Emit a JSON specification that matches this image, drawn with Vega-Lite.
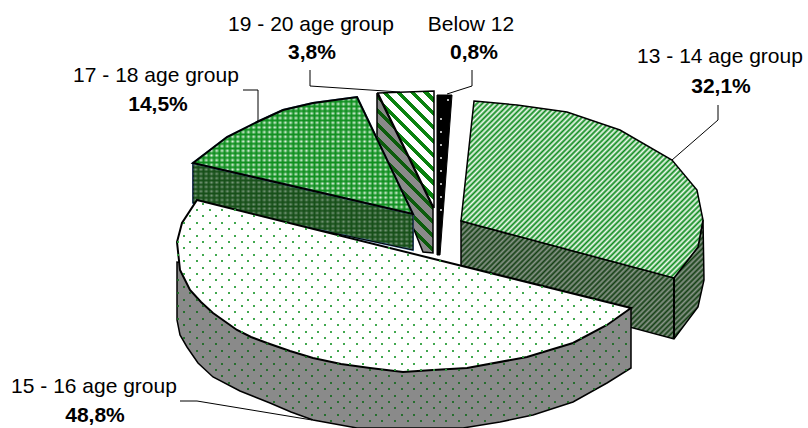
{
"$schema":"https://vega.github.io/schema/vega-lite/v6.json",
"width":808,"height":428,"padding":0,"autosize":{"type":"none"},"background":"white",
"config":{"view":{"stroke":null}},
"data":{"name":"outlines","values":[
{"p":"greySide","i":1,"x":377,"y":93},{"p":"greySide","i":2,"x":433,"y":208},{"p":"greySide","i":3,"x":433,"y":253},{"p":"greySide","i":4,"x":423,"y":252},{"p":"greySide","i":5,"x":377,"y":138},
{"p":"stripeTop","i":1,"x":378,"y":93},{"p":"stripeTop","i":2,"x":434,"y":91},{"p":"stripeTop","i":3,"x":434,"y":208},
{"p":"black","i":1,"x":437,"y":95},{"p":"black","i":2,"x":452,"y":95},{"p":"black","i":3,"x":440,"y":255},{"p":"black","i":4,"x":437,"y":255},
{"p":"greenSide","i":1,"x":193,"y":163},{"p":"greenSide","i":2,"x":413,"y":214},{"p":"greenSide","i":3,"x":413,"y":250},{"p":"greenSide","i":4,"x":193,"y":203},
{"p":"greenTop","i":1,"x":193,"y":163},{"p":"greenTop","i":2,"x":227,"y":137},{"p":"greenTop","i":3,"x":257,"y":122},{"p":"greenTop","i":4,"x":283,"y":110},{"p":"greenTop","i":5,"x":313,"y":103},{"p":"greenTop","i":6,"x":357,"y":97},{"p":"greenTop","i":7,"x":413,"y":214},
{"p":"youngSide","i":1,"x":461,"y":221},{"p":"youngSide","i":2,"x":674,"y":278},{"p":"youngSide","i":3,"x":698,"y":247},{"p":"youngSide","i":4,"x":703,"y":220},{"p":"youngSide","i":5,"x":704,"y":280},{"p":"youngSide","i":6,"x":698,"y":307},{"p":"youngSide","i":7,"x":674,"y":339},{"p":"youngSide","i":8,"x":461,"y":282},
{"p":"youngEdge","i":1,"x":674,"y":278},{"p":"youngEdge","i":2,"x":674,"y":339},
{"p":"youngTop","i":1,"x":474,"y":101},{"p":"youngTop","i":2,"x":517,"y":105},{"p":"youngTop","i":3,"x":567,"y":112},{"p":"youngTop","i":4,"x":620,"y":130},{"p":"youngTop","i":5,"x":672,"y":160},{"p":"youngTop","i":6,"x":697,"y":190},{"p":"youngTop","i":7,"x":703,"y":220},{"p":"youngTop","i":8,"x":698,"y":247},{"p":"youngTop","i":9,"x":674,"y":278},{"p":"youngTop","i":10,"x":461,"y":221},
{"p":"bigSide","i":1,"x":177,"y":262},{"p":"bigSide","i":2,"x":177,"y":320},{"p":"bigSide","i":3,"x":180,"y":335},{"p":"bigSide","i":4,"x":187,"y":347},{"p":"bigSide","i":5,"x":198,"y":363},{"p":"bigSide","i":6,"x":213,"y":377},{"p":"bigSide","i":7,"x":240,"y":391},{"p":"bigSide","i":8,"x":270,"y":403},{"p":"bigSide","i":9,"x":291,"y":412},{"p":"bigSide","i":10,"x":313,"y":420},{"p":"bigSide","i":11,"x":357,"y":428},{"p":"bigSide","i":12,"x":463,"y":428},{"p":"bigSide","i":13,"x":500,"y":422},{"p":"bigSide","i":14,"x":533,"y":415},{"p":"bigSide","i":15,"x":573,"y":402},{"p":"bigSide","i":16,"x":607,"y":383},{"p":"bigSide","i":17,"x":631,"y":368},{"p":"bigSide","i":18,"x":631,"y":308},
{"p":"bigTop","i":1,"x":197,"y":200},{"p":"bigTop","i":2,"x":631,"y":308},{"p":"bigTop","i":3,"x":607,"y":325},{"p":"bigTop","i":4,"x":573,"y":343},{"p":"bigTop","i":5,"x":527,"y":357},{"p":"bigTop","i":6,"x":467,"y":368},{"p":"bigTop","i":7,"x":433,"y":370},{"p":"bigTop","i":8,"x":403,"y":372},{"p":"bigTop","i":9,"x":370,"y":368},{"p":"bigTop","i":10,"x":341,"y":364},{"p":"bigTop","i":11,"x":313,"y":358},{"p":"bigTop","i":12,"x":290,"y":351},{"p":"bigTop","i":13,"x":267,"y":343},{"p":"bigTop","i":14,"x":251,"y":337},{"p":"bigTop","i":15,"x":237,"y":330},{"p":"bigTop","i":16,"x":213,"y":313},{"p":"bigTop","i":17,"x":201,"y":302},{"p":"bigTop","i":18,"x":190,"y":290},{"p":"bigTop","i":19,"x":180,"y":270},{"p":"bigTop","i":20,"x":177,"y":242},{"p":"bigTop","i":21,"x":182,"y":223}
]},
"encoding":{
"x":{"field":"x","type":"quantitative","scale":{"domain":[0,808],"nice":false,"zero":false},"axis":null},
"y":{"field":"y","type":"quantitative","scale":{"domain":[428,0],"nice":false,"zero":false},"axis":null}
},
"layer":[
{"transform":[{"filter":"datum.p=='greySide'"}],"encoding":{"order":{"field":"i"}},"mark":{"type":"line","interpolate":"linear-closed","stroke":"#000","strokeWidth":1.5,"fill":{"gradient":"linear","x1":0,"y1":1,"x2":0.421,"y2":-0.202,"stops":[
{"offset":0,"color":"#0c5c0c"},{"offset":0.025,"color":"#0c5c0c"},{"offset":0.025,"color":"#8a8a8a"},{"offset":0.065,"color":"#8a8a8a"},
{"offset":0.065,"color":"#0c5c0c"},{"offset":0.09,"color":"#0c5c0c"},{"offset":0.09,"color":"#8a8a8a"},{"offset":0.13,"color":"#8a8a8a"},
{"offset":0.13,"color":"#0c5c0c"},{"offset":0.155,"color":"#0c5c0c"},{"offset":0.155,"color":"#8a8a8a"},{"offset":0.195,"color":"#8a8a8a"},
{"offset":0.195,"color":"#0c5c0c"},{"offset":0.22,"color":"#0c5c0c"},{"offset":0.22,"color":"#8a8a8a"},{"offset":0.26,"color":"#8a8a8a"},
{"offset":0.26,"color":"#0c5c0c"},{"offset":0.285,"color":"#0c5c0c"},{"offset":0.285,"color":"#8a8a8a"},{"offset":0.325,"color":"#8a8a8a"},
{"offset":0.325,"color":"#0c5c0c"},{"offset":0.35,"color":"#0c5c0c"},{"offset":0.35,"color":"#8a8a8a"},{"offset":0.39,"color":"#8a8a8a"},
{"offset":0.39,"color":"#0c5c0c"},{"offset":0.415,"color":"#0c5c0c"},{"offset":0.415,"color":"#8a8a8a"},{"offset":0.455,"color":"#8a8a8a"},
{"offset":0.455,"color":"#0c5c0c"},{"offset":0.48,"color":"#0c5c0c"},{"offset":0.48,"color":"#8a8a8a"},{"offset":0.52,"color":"#8a8a8a"},
{"offset":0.52,"color":"#0c5c0c"},{"offset":0.545,"color":"#0c5c0c"},{"offset":0.545,"color":"#8a8a8a"},{"offset":0.585,"color":"#8a8a8a"},
{"offset":0.585,"color":"#0c5c0c"},{"offset":0.61,"color":"#0c5c0c"},{"offset":0.61,"color":"#8a8a8a"},{"offset":0.65,"color":"#8a8a8a"},
{"offset":0.65,"color":"#0c5c0c"},{"offset":0.675,"color":"#0c5c0c"},{"offset":0.675,"color":"#8a8a8a"},{"offset":0.715,"color":"#8a8a8a"},
{"offset":0.715,"color":"#0c5c0c"},{"offset":0.74,"color":"#0c5c0c"},{"offset":0.74,"color":"#8a8a8a"},{"offset":0.78,"color":"#8a8a8a"},
{"offset":0.78,"color":"#0c5c0c"},{"offset":0.805,"color":"#0c5c0c"},{"offset":0.805,"color":"#8a8a8a"},{"offset":0.845,"color":"#8a8a8a"},
{"offset":0.845,"color":"#0c5c0c"},{"offset":0.87,"color":"#0c5c0c"},{"offset":0.87,"color":"#8a8a8a"},{"offset":0.91,"color":"#8a8a8a"},
{"offset":0.91,"color":"#0c5c0c"},{"offset":0.935,"color":"#0c5c0c"},{"offset":0.935,"color":"#8a8a8a"},{"offset":0.975,"color":"#8a8a8a"},
{"offset":0.975,"color":"#0c5c0c"},{"offset":1,"color":"#0c5c0c"}]}}},
{"transform":[{"filter":"datum.p=='stripeTop'"}],"encoding":{"order":{"field":"i"}},"mark":{"type":"line","interpolate":"linear-closed","stroke":"#000","strokeWidth":1.5,"fill":{"gradient":"linear","x1":0,"y1":1,"x2":0.576,"y2":-0.203,"stops":[
{"offset":0,"color":"#fff"},{"offset":0.05,"color":"#fff"},{"offset":0.05,"color":"#0a820f"},{"offset":0.08,"color":"#0a820f"},
{"offset":0.08,"color":"#fff"},{"offset":0.13,"color":"#fff"},{"offset":0.13,"color":"#0a820f"},{"offset":0.16,"color":"#0a820f"},
{"offset":0.16,"color":"#fff"},{"offset":0.21,"color":"#fff"},{"offset":0.21,"color":"#0a820f"},{"offset":0.24,"color":"#0a820f"},
{"offset":0.24,"color":"#fff"},{"offset":0.29,"color":"#fff"},{"offset":0.29,"color":"#0a820f"},{"offset":0.32,"color":"#0a820f"},
{"offset":0.32,"color":"#fff"},{"offset":0.37,"color":"#fff"},{"offset":0.37,"color":"#0a820f"},{"offset":0.4,"color":"#0a820f"},
{"offset":0.4,"color":"#fff"},{"offset":0.45,"color":"#fff"},{"offset":0.45,"color":"#0a820f"},{"offset":0.48,"color":"#0a820f"},
{"offset":0.48,"color":"#fff"},{"offset":0.53,"color":"#fff"},{"offset":0.53,"color":"#0a820f"},{"offset":0.56,"color":"#0a820f"},
{"offset":0.56,"color":"#fff"},{"offset":0.61,"color":"#fff"},{"offset":0.61,"color":"#0a820f"},{"offset":0.64,"color":"#0a820f"},
{"offset":0.64,"color":"#fff"},{"offset":0.69,"color":"#fff"},{"offset":0.69,"color":"#0a820f"},{"offset":0.72,"color":"#0a820f"},
{"offset":0.72,"color":"#fff"},{"offset":0.77,"color":"#fff"},{"offset":0.77,"color":"#0a820f"},{"offset":0.8,"color":"#0a820f"},
{"offset":0.8,"color":"#fff"},{"offset":0.85,"color":"#fff"},{"offset":0.85,"color":"#0a820f"},{"offset":0.88,"color":"#0a820f"},
{"offset":0.88,"color":"#fff"},{"offset":0.93,"color":"#fff"},{"offset":0.93,"color":"#0a820f"},{"offset":0.96,"color":"#0a820f"},
{"offset":0.96,"color":"#fff"},{"offset":1,"color":"#fff"}]}}},
{"transform":[{"filter":"datum.p=='black'"}],"encoding":{"order":{"field":"i"}},"mark":{"type":"line","interpolate":"linear-closed","stroke":"#000","strokeWidth":1,"fill":"#000"}},
{"transform":[{"filter":"datum.p=='greenSide'"}],"encoding":{"order":{"field":"i"}},"mark":{"type":"line","interpolate":"linear-closed","fill":{"gradient":"linear","x1":0,"y1":0,"x2":1,"y2":0,"stops":[
{"offset":0,"color":"#164f18"},{"offset":0.012,"color":"#7c9a7e"},{"offset":0.024,"color":"#164f18"},{"offset":0.036,"color":"#7c9a7e"},{"offset":0.048,"color":"#164f18"},{"offset":0.06,"color":"#7c9a7e"},{"offset":0.072,"color":"#164f18"},{"offset":0.084,"color":"#7c9a7e"},{"offset":0.096,"color":"#164f18"},{"offset":0.108,"color":"#7c9a7e"},{"offset":0.12,"color":"#164f18"},{"offset":0.132,"color":"#7c9a7e"},{"offset":0.144,"color":"#164f18"},{"offset":0.156,"color":"#7c9a7e"},{"offset":0.168,"color":"#164f18"},{"offset":0.18,"color":"#7c9a7e"},{"offset":0.192,"color":"#164f18"},{"offset":0.204,"color":"#7c9a7e"},{"offset":0.216,"color":"#164f18"},{"offset":0.228,"color":"#7c9a7e"},{"offset":0.24,"color":"#164f18"},{"offset":0.252,"color":"#7c9a7e"},{"offset":0.264,"color":"#164f18"},{"offset":0.276,"color":"#7c9a7e"},{"offset":0.288,"color":"#164f18"},{"offset":0.3,"color":"#7c9a7e"},{"offset":0.312,"color":"#164f18"},{"offset":0.324,"color":"#7c9a7e"},{"offset":0.336,"color":"#164f18"},{"offset":0.348,"color":"#7c9a7e"},{"offset":0.36,"color":"#164f18"},{"offset":0.372,"color":"#7c9a7e"},{"offset":0.384,"color":"#164f18"},{"offset":0.396,"color":"#7c9a7e"},{"offset":0.408,"color":"#164f18"},{"offset":0.42,"color":"#7c9a7e"},{"offset":0.432,"color":"#164f18"},{"offset":0.444,"color":"#7c9a7e"},{"offset":0.456,"color":"#164f18"},{"offset":0.468,"color":"#7c9a7e"},{"offset":0.48,"color":"#164f18"},{"offset":0.492,"color":"#7c9a7e"},{"offset":0.504,"color":"#164f18"},{"offset":0.516,"color":"#7c9a7e"},{"offset":0.528,"color":"#164f18"},{"offset":0.54,"color":"#7c9a7e"},{"offset":0.552,"color":"#164f18"},{"offset":0.564,"color":"#7c9a7e"},{"offset":0.576,"color":"#164f18"},{"offset":0.588,"color":"#7c9a7e"},{"offset":0.6,"color":"#164f18"},{"offset":0.612,"color":"#7c9a7e"},{"offset":0.624,"color":"#164f18"},{"offset":0.636,"color":"#7c9a7e"},{"offset":0.648,"color":"#164f18"},{"offset":0.66,"color":"#7c9a7e"},{"offset":0.672,"color":"#164f18"},{"offset":0.684,"color":"#7c9a7e"},{"offset":0.696,"color":"#164f18"},{"offset":0.708,"color":"#7c9a7e"},{"offset":0.72,"color":"#164f18"},{"offset":0.732,"color":"#7c9a7e"},{"offset":0.744,"color":"#164f18"},{"offset":0.756,"color":"#7c9a7e"},{"offset":0.768,"color":"#164f18"},{"offset":0.78,"color":"#7c9a7e"},{"offset":0.792,"color":"#164f18"},{"offset":0.804,"color":"#7c9a7e"},{"offset":0.816,"color":"#164f18"},{"offset":0.828,"color":"#7c9a7e"},{"offset":0.84,"color":"#164f18"},{"offset":0.852,"color":"#7c9a7e"},{"offset":0.864,"color":"#164f18"},{"offset":0.876,"color":"#7c9a7e"},{"offset":0.888,"color":"#164f18"},{"offset":0.9,"color":"#7c9a7e"},{"offset":0.912,"color":"#164f18"},{"offset":0.924,"color":"#7c9a7e"},{"offset":0.936,"color":"#164f18"},{"offset":0.948,"color":"#7c9a7e"},{"offset":0.96,"color":"#164f18"},{"offset":0.972,"color":"#7c9a7e"},{"offset":0.984,"color":"#164f18"},{"offset":0.996,"color":"#7c9a7e"}]}}},
{"transform":[{"filter":"datum.p=='greenSide'"}],"encoding":{"order":{"field":"i"}},"mark":{"type":"line","interpolate":"linear-closed","stroke":"#000","strokeWidth":1,"fill":{"gradient":"linear","x1":0,"y1":0,"x2":0,"y2":1,"stops":[
{"offset":0,"color":"#164f18"},{"offset":0.025,"color":"#164f1800"},{"offset":0.05,"color":"#164f18"},{"offset":0.075,"color":"#164f1800"},{"offset":0.1,"color":"#164f18"},{"offset":0.125,"color":"#164f1800"},{"offset":0.15,"color":"#164f18"},{"offset":0.175,"color":"#164f1800"},{"offset":0.2,"color":"#164f18"},{"offset":0.225,"color":"#164f1800"},{"offset":0.25,"color":"#164f18"},{"offset":0.275,"color":"#164f1800"},{"offset":0.3,"color":"#164f18"},{"offset":0.325,"color":"#164f1800"},{"offset":0.35,"color":"#164f18"},{"offset":0.375,"color":"#164f1800"},{"offset":0.4,"color":"#164f18"},{"offset":0.425,"color":"#164f1800"},{"offset":0.45,"color":"#164f18"},{"offset":0.475,"color":"#164f1800"},{"offset":0.5,"color":"#164f18"},{"offset":0.525,"color":"#164f1800"},{"offset":0.55,"color":"#164f18"},{"offset":0.575,"color":"#164f1800"},{"offset":0.6,"color":"#164f18"},{"offset":0.625,"color":"#164f1800"},{"offset":0.65,"color":"#164f18"},{"offset":0.675,"color":"#164f1800"},{"offset":0.7,"color":"#164f18"},{"offset":0.725,"color":"#164f1800"},{"offset":0.75,"color":"#164f18"},{"offset":0.775,"color":"#164f1800"},{"offset":0.8,"color":"#164f18"},{"offset":0.825,"color":"#164f1800"},{"offset":0.85,"color":"#164f18"},{"offset":0.875,"color":"#164f1800"},{"offset":0.9,"color":"#164f18"},{"offset":0.925,"color":"#164f1800"},{"offset":0.95,"color":"#164f18"},{"offset":0.975,"color":"#164f1800"},{"offset":1,"color":"#164f18"}]}}},
{"transform":[{"filter":"datum.p=='greenTop'"}],"encoding":{"order":{"field":"i"}},"mark":{"type":"line","interpolate":"linear-closed","fill":{"gradient":"linear","x1":0,"y1":0,"x2":1,"y2":0,"stops":[
{"offset":0,"color":"#0f8f1f"},{"offset":0.012,"color":"#e8f8e8"},{"offset":0.024,"color":"#0f8f1f"},{"offset":0.036,"color":"#e8f8e8"},{"offset":0.048,"color":"#0f8f1f"},{"offset":0.06,"color":"#e8f8e8"},{"offset":0.072,"color":"#0f8f1f"},{"offset":0.084,"color":"#e8f8e8"},{"offset":0.096,"color":"#0f8f1f"},{"offset":0.108,"color":"#e8f8e8"},{"offset":0.12,"color":"#0f8f1f"},{"offset":0.132,"color":"#e8f8e8"},{"offset":0.144,"color":"#0f8f1f"},{"offset":0.156,"color":"#e8f8e8"},{"offset":0.168,"color":"#0f8f1f"},{"offset":0.18,"color":"#e8f8e8"},{"offset":0.192,"color":"#0f8f1f"},{"offset":0.204,"color":"#e8f8e8"},{"offset":0.216,"color":"#0f8f1f"},{"offset":0.228,"color":"#e8f8e8"},{"offset":0.24,"color":"#0f8f1f"},{"offset":0.252,"color":"#e8f8e8"},{"offset":0.264,"color":"#0f8f1f"},{"offset":0.276,"color":"#e8f8e8"},{"offset":0.288,"color":"#0f8f1f"},{"offset":0.3,"color":"#e8f8e8"},{"offset":0.312,"color":"#0f8f1f"},{"offset":0.324,"color":"#e8f8e8"},{"offset":0.336,"color":"#0f8f1f"},{"offset":0.348,"color":"#e8f8e8"},{"offset":0.36,"color":"#0f8f1f"},{"offset":0.372,"color":"#e8f8e8"},{"offset":0.384,"color":"#0f8f1f"},{"offset":0.396,"color":"#e8f8e8"},{"offset":0.408,"color":"#0f8f1f"},{"offset":0.42,"color":"#e8f8e8"},{"offset":0.432,"color":"#0f8f1f"},{"offset":0.444,"color":"#e8f8e8"},{"offset":0.456,"color":"#0f8f1f"},{"offset":0.468,"color":"#e8f8e8"},{"offset":0.48,"color":"#0f8f1f"},{"offset":0.492,"color":"#e8f8e8"},{"offset":0.504,"color":"#0f8f1f"},{"offset":0.516,"color":"#e8f8e8"},{"offset":0.528,"color":"#0f8f1f"},{"offset":0.54,"color":"#e8f8e8"},{"offset":0.552,"color":"#0f8f1f"},{"offset":0.564,"color":"#e8f8e8"},{"offset":0.576,"color":"#0f8f1f"},{"offset":0.588,"color":"#e8f8e8"},{"offset":0.6,"color":"#0f8f1f"},{"offset":0.612,"color":"#e8f8e8"},{"offset":0.624,"color":"#0f8f1f"},{"offset":0.636,"color":"#e8f8e8"},{"offset":0.648,"color":"#0f8f1f"},{"offset":0.66,"color":"#e8f8e8"},{"offset":0.672,"color":"#0f8f1f"},{"offset":0.684,"color":"#e8f8e8"},{"offset":0.696,"color":"#0f8f1f"},{"offset":0.708,"color":"#e8f8e8"},{"offset":0.72,"color":"#0f8f1f"},{"offset":0.732,"color":"#e8f8e8"},{"offset":0.744,"color":"#0f8f1f"},{"offset":0.756,"color":"#e8f8e8"},{"offset":0.768,"color":"#0f8f1f"},{"offset":0.78,"color":"#e8f8e8"},{"offset":0.792,"color":"#0f8f1f"},{"offset":0.804,"color":"#e8f8e8"},{"offset":0.816,"color":"#0f8f1f"},{"offset":0.828,"color":"#e8f8e8"},{"offset":0.84,"color":"#0f8f1f"},{"offset":0.852,"color":"#e8f8e8"},{"offset":0.864,"color":"#0f8f1f"},{"offset":0.876,"color":"#e8f8e8"},{"offset":0.888,"color":"#0f8f1f"},{"offset":0.9,"color":"#e8f8e8"},{"offset":0.912,"color":"#0f8f1f"},{"offset":0.924,"color":"#e8f8e8"},{"offset":0.936,"color":"#0f8f1f"},{"offset":0.948,"color":"#e8f8e8"},{"offset":0.96,"color":"#0f8f1f"},{"offset":0.972,"color":"#e8f8e8"},{"offset":0.984,"color":"#0f8f1f"},{"offset":0.996,"color":"#e8f8e8"}]}}},
{"transform":[{"filter":"datum.p=='greenTop'"}],"encoding":{"order":{"field":"i"}},"mark":{"type":"line","interpolate":"linear-closed","stroke":"#000","strokeWidth":2,"fill":{"gradient":"linear","x1":0,"y1":0,"x2":0,"y2":1,"stops":[
{"offset":0,"color":"#0f8f1f"},{"offset":0.02,"color":"#0f8f1f00"},{"offset":0.04,"color":"#0f8f1f"},{"offset":0.06,"color":"#0f8f1f00"},{"offset":0.08,"color":"#0f8f1f"},{"offset":0.1,"color":"#0f8f1f00"},{"offset":0.12,"color":"#0f8f1f"},{"offset":0.14,"color":"#0f8f1f00"},{"offset":0.16,"color":"#0f8f1f"},{"offset":0.18,"color":"#0f8f1f00"},{"offset":0.2,"color":"#0f8f1f"},{"offset":0.22,"color":"#0f8f1f00"},{"offset":0.24,"color":"#0f8f1f"},{"offset":0.26,"color":"#0f8f1f00"},{"offset":0.28,"color":"#0f8f1f"},{"offset":0.3,"color":"#0f8f1f00"},{"offset":0.32,"color":"#0f8f1f"},{"offset":0.34,"color":"#0f8f1f00"},{"offset":0.36,"color":"#0f8f1f"},{"offset":0.38,"color":"#0f8f1f00"},{"offset":0.4,"color":"#0f8f1f"},{"offset":0.42,"color":"#0f8f1f00"},{"offset":0.44,"color":"#0f8f1f"},{"offset":0.46,"color":"#0f8f1f00"},{"offset":0.48,"color":"#0f8f1f"},{"offset":0.5,"color":"#0f8f1f00"},{"offset":0.52,"color":"#0f8f1f"},{"offset":0.54,"color":"#0f8f1f00"},{"offset":0.56,"color":"#0f8f1f"},{"offset":0.58,"color":"#0f8f1f00"},{"offset":0.6,"color":"#0f8f1f"},{"offset":0.62,"color":"#0f8f1f00"},{"offset":0.64,"color":"#0f8f1f"},{"offset":0.66,"color":"#0f8f1f00"},{"offset":0.68,"color":"#0f8f1f"},{"offset":0.7,"color":"#0f8f1f00"},{"offset":0.72,"color":"#0f8f1f"},{"offset":0.74,"color":"#0f8f1f00"},{"offset":0.76,"color":"#0f8f1f"},{"offset":0.78,"color":"#0f8f1f00"},{"offset":0.8,"color":"#0f8f1f"},{"offset":0.82,"color":"#0f8f1f00"},{"offset":0.84,"color":"#0f8f1f"},{"offset":0.86,"color":"#0f8f1f00"},{"offset":0.88,"color":"#0f8f1f"},{"offset":0.9,"color":"#0f8f1f00"},{"offset":0.92,"color":"#0f8f1f"},{"offset":0.94,"color":"#0f8f1f00"},{"offset":0.96,"color":"#0f8f1f"},{"offset":0.98,"color":"#0f8f1f00"},{"offset":1,"color":"#0f8f1f"}]}}},
{"transform":[{"filter":"datum.p=='youngSide'"}],"encoding":{"order":{"field":"i"}},"mark":{"type":"line","interpolate":"linear-closed","stroke":"#000","strokeWidth":1.5,"fill":{"gradient":"linear","x1":0,"y1":0,"x2":1.12,"y2":0.549,"stops":[
{"offset":0,"color":"#143f14"},{"offset":0.008,"color":"#8a968a"},{"offset":0.016,"color":"#143f14"},{"offset":0.024,"color":"#8a968a"},{"offset":0.032,"color":"#143f14"},{"offset":0.04,"color":"#8a968a"},{"offset":0.048,"color":"#143f14"},{"offset":0.056,"color":"#8a968a"},{"offset":0.064,"color":"#143f14"},{"offset":0.072,"color":"#8a968a"},{"offset":0.08,"color":"#143f14"},{"offset":0.088,"color":"#8a968a"},{"offset":0.096,"color":"#143f14"},{"offset":0.104,"color":"#8a968a"},{"offset":0.112,"color":"#143f14"},{"offset":0.12,"color":"#8a968a"},{"offset":0.128,"color":"#143f14"},{"offset":0.136,"color":"#8a968a"},{"offset":0.144,"color":"#143f14"},{"offset":0.152,"color":"#8a968a"},{"offset":0.16,"color":"#143f14"},{"offset":0.168,"color":"#8a968a"},{"offset":0.176,"color":"#143f14"},{"offset":0.184,"color":"#8a968a"},{"offset":0.192,"color":"#143f14"},{"offset":0.2,"color":"#8a968a"},{"offset":0.208,"color":"#143f14"},{"offset":0.216,"color":"#8a968a"},{"offset":0.224,"color":"#143f14"},{"offset":0.232,"color":"#8a968a"},{"offset":0.24,"color":"#143f14"},{"offset":0.248,"color":"#8a968a"},{"offset":0.256,"color":"#143f14"},{"offset":0.264,"color":"#8a968a"},{"offset":0.272,"color":"#143f14"},{"offset":0.28,"color":"#8a968a"},{"offset":0.288,"color":"#143f14"},{"offset":0.296,"color":"#8a968a"},{"offset":0.304,"color":"#143f14"},{"offset":0.312,"color":"#8a968a"},{"offset":0.32,"color":"#143f14"},{"offset":0.328,"color":"#8a968a"},{"offset":0.336,"color":"#143f14"},{"offset":0.344,"color":"#8a968a"},{"offset":0.352,"color":"#143f14"},{"offset":0.36,"color":"#8a968a"},{"offset":0.368,"color":"#143f14"},{"offset":0.376,"color":"#8a968a"},{"offset":0.384,"color":"#143f14"},{"offset":0.392,"color":"#8a968a"},{"offset":0.4,"color":"#143f14"},{"offset":0.408,"color":"#8a968a"},{"offset":0.416,"color":"#143f14"},{"offset":0.424,"color":"#8a968a"},{"offset":0.432,"color":"#143f14"},{"offset":0.44,"color":"#8a968a"},{"offset":0.448,"color":"#143f14"},{"offset":0.456,"color":"#8a968a"},{"offset":0.464,"color":"#143f14"},{"offset":0.472,"color":"#8a968a"},{"offset":0.48,"color":"#143f14"},{"offset":0.488,"color":"#8a968a"},{"offset":0.496,"color":"#143f14"},{"offset":0.504,"color":"#8a968a"},{"offset":0.512,"color":"#143f14"},{"offset":0.52,"color":"#8a968a"},{"offset":0.528,"color":"#143f14"},{"offset":0.536,"color":"#8a968a"},{"offset":0.544,"color":"#143f14"},{"offset":0.552,"color":"#8a968a"},{"offset":0.56,"color":"#143f14"},{"offset":0.568,"color":"#8a968a"},{"offset":0.576,"color":"#143f14"},{"offset":0.584,"color":"#8a968a"},{"offset":0.592,"color":"#143f14"},{"offset":0.6,"color":"#8a968a"},{"offset":0.608,"color":"#143f14"},{"offset":0.616,"color":"#8a968a"},{"offset":0.624,"color":"#143f14"},{"offset":0.632,"color":"#8a968a"},{"offset":0.64,"color":"#143f14"},{"offset":0.648,"color":"#8a968a"},{"offset":0.656,"color":"#143f14"},{"offset":0.664,"color":"#8a968a"},{"offset":0.672,"color":"#143f14"},{"offset":0.68,"color":"#8a968a"},{"offset":0.688,"color":"#143f14"},{"offset":0.696,"color":"#8a968a"},{"offset":0.704,"color":"#143f14"},{"offset":0.712,"color":"#8a968a"},{"offset":0.72,"color":"#143f14"},{"offset":0.728,"color":"#8a968a"},{"offset":0.736,"color":"#143f14"},{"offset":0.744,"color":"#8a968a"},{"offset":0.752,"color":"#143f14"},{"offset":0.76,"color":"#8a968a"},{"offset":0.768,"color":"#143f14"},{"offset":0.776,"color":"#8a968a"},{"offset":0.784,"color":"#143f14"},{"offset":0.792,"color":"#8a968a"},{"offset":0.8,"color":"#143f14"},{"offset":0.808,"color":"#8a968a"},{"offset":0.816,"color":"#143f14"},{"offset":0.824,"color":"#8a968a"},{"offset":0.832,"color":"#143f14"},{"offset":0.84,"color":"#8a968a"},{"offset":0.848,"color":"#143f14"},{"offset":0.856,"color":"#8a968a"},{"offset":0.864,"color":"#143f14"},{"offset":0.872,"color":"#8a968a"},{"offset":0.88,"color":"#143f14"},{"offset":0.888,"color":"#8a968a"},{"offset":0.896,"color":"#143f14"},{"offset":0.904,"color":"#8a968a"},{"offset":0.912,"color":"#143f14"},{"offset":0.92,"color":"#8a968a"},{"offset":0.928,"color":"#143f14"},{"offset":0.936,"color":"#8a968a"},{"offset":0.944,"color":"#143f14"},{"offset":0.952,"color":"#8a968a"},{"offset":0.96,"color":"#143f14"},{"offset":0.968,"color":"#8a968a"},{"offset":0.976,"color":"#143f14"},{"offset":0.984,"color":"#8a968a"},{"offset":0.992,"color":"#143f14"},{"offset":1,"color":"#8a968a"}]}}},
{"transform":[{"filter":"datum.p=='youngEdge'"}],"encoding":{"order":{"field":"i"}},"mark":{"type":"line","stroke":"#000","strokeWidth":2}},
{"transform":[{"filter":"datum.p=='youngTop'"}],"encoding":{"order":{"field":"i"}},"mark":{"type":"line","interpolate":"linear-closed","stroke":"#000","strokeWidth":1.5,"fill":{"gradient":"linear","x1":0.054,"y1":0,"x2":1.093,"y2":0.76,"stops":[
{"offset":0,"color":"#0c8a1c"},{"offset":0.007,"color":"#f2fbf2"},{"offset":0.014,"color":"#0c8a1c"},{"offset":0.021,"color":"#f2fbf2"},{"offset":0.028,"color":"#0c8a1c"},{"offset":0.035,"color":"#f2fbf2"},{"offset":0.042,"color":"#0c8a1c"},{"offset":0.049,"color":"#f2fbf2"},{"offset":0.056,"color":"#0c8a1c"},{"offset":0.063,"color":"#f2fbf2"},{"offset":0.07,"color":"#0c8a1c"},{"offset":0.077,"color":"#f2fbf2"},{"offset":0.084,"color":"#0c8a1c"},{"offset":0.091,"color":"#f2fbf2"},{"offset":0.098,"color":"#0c8a1c"},{"offset":0.105,"color":"#f2fbf2"},{"offset":0.112,"color":"#0c8a1c"},{"offset":0.119,"color":"#f2fbf2"},{"offset":0.126,"color":"#0c8a1c"},{"offset":0.133,"color":"#f2fbf2"},{"offset":0.14,"color":"#0c8a1c"},{"offset":0.147,"color":"#f2fbf2"},{"offset":0.154,"color":"#0c8a1c"},{"offset":0.161,"color":"#f2fbf2"},{"offset":0.168,"color":"#0c8a1c"},{"offset":0.175,"color":"#f2fbf2"},{"offset":0.182,"color":"#0c8a1c"},{"offset":0.189,"color":"#f2fbf2"},{"offset":0.196,"color":"#0c8a1c"},{"offset":0.203,"color":"#f2fbf2"},{"offset":0.21,"color":"#0c8a1c"},{"offset":0.217,"color":"#f2fbf2"},{"offset":0.224,"color":"#0c8a1c"},{"offset":0.231,"color":"#f2fbf2"},{"offset":0.238,"color":"#0c8a1c"},{"offset":0.245,"color":"#f2fbf2"},{"offset":0.252,"color":"#0c8a1c"},{"offset":0.259,"color":"#f2fbf2"},{"offset":0.266,"color":"#0c8a1c"},{"offset":0.273,"color":"#f2fbf2"},{"offset":0.28,"color":"#0c8a1c"},{"offset":0.287,"color":"#f2fbf2"},{"offset":0.294,"color":"#0c8a1c"},{"offset":0.301,"color":"#f2fbf2"},{"offset":0.308,"color":"#0c8a1c"},{"offset":0.315,"color":"#f2fbf2"},{"offset":0.322,"color":"#0c8a1c"},{"offset":0.329,"color":"#f2fbf2"},{"offset":0.336,"color":"#0c8a1c"},{"offset":0.343,"color":"#f2fbf2"},{"offset":0.35,"color":"#0c8a1c"},{"offset":0.357,"color":"#f2fbf2"},{"offset":0.364,"color":"#0c8a1c"},{"offset":0.371,"color":"#f2fbf2"},{"offset":0.378,"color":"#0c8a1c"},{"offset":0.385,"color":"#f2fbf2"},{"offset":0.392,"color":"#0c8a1c"},{"offset":0.399,"color":"#f2fbf2"},{"offset":0.406,"color":"#0c8a1c"},{"offset":0.413,"color":"#f2fbf2"},{"offset":0.42,"color":"#0c8a1c"},{"offset":0.427,"color":"#f2fbf2"},{"offset":0.434,"color":"#0c8a1c"},{"offset":0.441,"color":"#f2fbf2"},{"offset":0.448,"color":"#0c8a1c"},{"offset":0.455,"color":"#f2fbf2"},{"offset":0.462,"color":"#0c8a1c"},{"offset":0.469,"color":"#f2fbf2"},{"offset":0.476,"color":"#0c8a1c"},{"offset":0.483,"color":"#f2fbf2"},{"offset":0.49,"color":"#0c8a1c"},{"offset":0.497,"color":"#f2fbf2"},{"offset":0.504,"color":"#0c8a1c"},{"offset":0.511,"color":"#f2fbf2"},{"offset":0.518,"color":"#0c8a1c"},{"offset":0.525,"color":"#f2fbf2"},{"offset":0.532,"color":"#0c8a1c"},{"offset":0.539,"color":"#f2fbf2"},{"offset":0.546,"color":"#0c8a1c"},{"offset":0.553,"color":"#f2fbf2"},{"offset":0.56,"color":"#0c8a1c"},{"offset":0.567,"color":"#f2fbf2"},{"offset":0.574,"color":"#0c8a1c"},{"offset":0.581,"color":"#f2fbf2"},{"offset":0.588,"color":"#0c8a1c"},{"offset":0.595,"color":"#f2fbf2"},{"offset":0.602,"color":"#0c8a1c"},{"offset":0.609,"color":"#f2fbf2"},{"offset":0.616,"color":"#0c8a1c"},{"offset":0.623,"color":"#f2fbf2"},{"offset":0.63,"color":"#0c8a1c"},{"offset":0.637,"color":"#f2fbf2"},{"offset":0.644,"color":"#0c8a1c"},{"offset":0.651,"color":"#f2fbf2"},{"offset":0.658,"color":"#0c8a1c"},{"offset":0.665,"color":"#f2fbf2"},{"offset":0.672,"color":"#0c8a1c"},{"offset":0.679,"color":"#f2fbf2"},{"offset":0.686,"color":"#0c8a1c"},{"offset":0.693,"color":"#f2fbf2"},{"offset":0.7,"color":"#0c8a1c"},{"offset":0.707,"color":"#f2fbf2"},{"offset":0.714,"color":"#0c8a1c"},{"offset":0.721,"color":"#f2fbf2"},{"offset":0.728,"color":"#0c8a1c"},{"offset":0.735,"color":"#f2fbf2"},{"offset":0.742,"color":"#0c8a1c"},{"offset":0.749,"color":"#f2fbf2"},{"offset":0.756,"color":"#0c8a1c"},{"offset":0.763,"color":"#f2fbf2"},{"offset":0.77,"color":"#0c8a1c"},{"offset":0.777,"color":"#f2fbf2"},{"offset":0.784,"color":"#0c8a1c"},{"offset":0.791,"color":"#f2fbf2"},{"offset":0.798,"color":"#0c8a1c"},{"offset":0.805,"color":"#f2fbf2"},{"offset":0.812,"color":"#0c8a1c"},{"offset":0.819,"color":"#f2fbf2"},{"offset":0.826,"color":"#0c8a1c"},{"offset":0.833,"color":"#f2fbf2"},{"offset":0.84,"color":"#0c8a1c"},{"offset":0.847,"color":"#f2fbf2"},{"offset":0.854,"color":"#0c8a1c"},{"offset":0.861,"color":"#f2fbf2"},{"offset":0.868,"color":"#0c8a1c"},{"offset":0.875,"color":"#f2fbf2"},{"offset":0.882,"color":"#0c8a1c"},{"offset":0.889,"color":"#f2fbf2"},{"offset":0.896,"color":"#0c8a1c"},{"offset":0.903,"color":"#f2fbf2"},{"offset":0.91,"color":"#0c8a1c"},{"offset":0.917,"color":"#f2fbf2"},{"offset":0.924,"color":"#0c8a1c"},{"offset":0.931,"color":"#f2fbf2"},{"offset":0.938,"color":"#0c8a1c"},{"offset":0.945,"color":"#f2fbf2"},{"offset":0.952,"color":"#0c8a1c"},{"offset":0.959,"color":"#f2fbf2"},{"offset":0.966,"color":"#0c8a1c"},{"offset":0.973,"color":"#f2fbf2"},{"offset":0.98,"color":"#0c8a1c"},{"offset":0.987,"color":"#f2fbf2"},{"offset":0.994,"color":"#0c8a1c"},{"offset":1,"color":"#f2fbf2"}]}}},
{"transform":[{"filter":"datum.p=='bigSide'"}],"encoding":{"order":{"field":"i"}},"mark":{"type":"line","interpolate":"linear-closed","stroke":"#000","strokeWidth":1.5,"fill":"#8a8a8a"}},
{"transform":[{"filter":"datum.p=='bigTop'"}],"encoding":{"order":{"field":"i"}},"mark":{"type":"line","interpolate":"linear-closed","stroke":"#000","strokeWidth":2,"fill":"#fff"}},
{"data":{"name":"bigDots","values":[
{"f":"top","y":204,"xs":[203]},
{"f":"top","y":210,"xs":[197,210,222,235]},
{"f":"top","y":216,"xs":[190,203,216,229,242,254]},
{"f":"top","y":223,"xs":[184,197,210,222,235,248,261,274,286]},
{"f":"top","y":229,"xs":[190,203,216,229,242,254,267,280,293,306]},
{"f":"top","y":236,"xs":[184,197,210,222,235,248,261,274,286,299,312,325,338]},
{"f":"top","y":242,"xs":[178,190,203,216,229,242,254,267,280,293,306,318,331,344,357]},
{"f":"top","y":248,"xs":[184,197,210,222,235,248,261,274,286,299,312,325,338,350,363,376,389]},
{"f":"top","y":255,"xs":[178,190,203,216,229,242,254,267,280,293,306,318,331,344,357,370,382,395,408]},
{"f":"top","y":261,"xs":[184,197,210,222,235,248,261,274,286,299,312,325,338,350,363,376,389,402,414,427,440]},
{"f":"top","y":268,"xs":[190,203,216,229,242,254,267,280,293,306,318,331,344,357,370,382,395,408,421,434,446,459]},
{"f":"top","y":274,"xs":[184,197,210,222,235,248,261,274,286,299,312,325,338,350,363,376,389,402,414,427,440,453,466,478,491]},
{"f":"top","y":280,"xs":[190,203,216,229,242,254,267,280,293,306,318,331,344,357,370,382,395,408,421,434,446,459,472,485,498,510]},
{"f":"top","y":287,"xs":[197,210,222,235,248,261,274,286,299,312,325,338,350,363,376,389,402,414,427,440,453,466,478,491,504,517,530,542]},
{"f":"top","y":293,"xs":[203,216,229,242,254,267,280,293,306,318,331,344,357,370,382,395,408,421,434,446,459,472,485,498,510,523,536,549,562]},
{"f":"top","y":300,"xs":[210,222,235,248,261,274,286,299,312,325,338,350,363,376,389,402,414,427,440,453,466,478,491,504,517,530,542,555,568,581,594]},
{"f":"top","y":306,"xs":[216,229,242,254,267,280,293,306,318,331,344,357,370,382,395,408,421,434,446,459,472,485,498,510,523,536,549,562,574,587,600,613]},
{"f":"top","y":312,"xs":[222,235,248,261,274,286,299,312,325,338,350,363,376,389,402,414,427,440,453,466,478,491,504,517,530,542,555,568,581,594,606,619]},
{"f":"top","y":319,"xs":[229,242,254,267,280,293,306,318,331,344,357,370,382,395,408,421,434,446,459,472,485,498,510,523,536,549,562,574,587,600,613]},
{"f":"top","y":325,"xs":[235,248,261,274,286,299,312,325,338,350,363,376,389,402,414,427,440,453,466,478,491,504,517,530,542,555,568,581,594,606]},
{"f":"top","y":332,"xs":[242,254,267,280,293,306,318,331,344,357,370,382,395,408,421,434,446,459,472,485,498,510,523,536,549,562,574,587]},
{"f":"top","y":338,"xs":[261,274,286,299,312,325,338,350,363,376,389,402,414,427,440,453,466,478,491,504,517,530,542,555,568,581]},
{"f":"top","y":344,"xs":[280,293,306,318,331,344,357,370,382,395,408,421,434,446,459,472,485,498,510,523,536,549,562]},
{"f":"top","y":351,"xs":[299,312,325,338,350,363,376,389,402,414,427,440,453,466,478,491,504,517,530,542]},
{"f":"top","y":357,"xs":[318,331,344,357,370,382,395,408,421,434,446,459,472,485,498,510,523]},
{"f":"top","y":364,"xs":[350,363,376,389,402,414,427,440,453,466,478]},
{"f":"top","y":370,"xs":[395,408,421,434,446]},
{"f":"side","y":280,"xs":[178]},
{"f":"side","y":287,"xs":[184]},
{"f":"side","y":293,"xs":[178,190]},
{"f":"side","y":300,"xs":[184,197]},
{"f":"side","y":306,"xs":[178,190,203]},
{"f":"side","y":312,"xs":[184,197,210]},
{"f":"side","y":319,"xs":[178,190,203,216,626]},
{"f":"side","y":325,"xs":[184,197,210,222,619]},
{"f":"side","y":332,"xs":[190,203,216,229,600,613,626]},
{"f":"side","y":338,"xs":[184,197,210,222,235,248,594,606,619]},
{"f":"side","y":344,"xs":[190,203,216,229,242,254,267,574,587,600,613,626]},
{"f":"side","y":351,"xs":[197,210,222,235,248,261,274,286,555,568,581,594,606,619]},
{"f":"side","y":357,"xs":[203,216,229,242,254,267,280,293,306,536,549,562,574,587,600,613,626]},
{"f":"side","y":364,"xs":[210,222,235,248,261,274,286,299,312,325,338,491,504,517,530,542,555,568,581,594,606,619]},
{"f":"side","y":370,"xs":[216,229,242,254,267,280,293,306,318,331,344,357,370,382,459,472,485,498,510,523,536,549,562,574,587,600,613,626]},
{"f":"side","y":376,"xs":[222,235,248,261,274,286,299,312,325,338,350,363,376,389,402,414,427,440,453,466,478,491,504,517,530,542,555,568,581,594,606]},
{"f":"side","y":383,"xs":[229,242,254,267,280,293,306,318,331,344,357,370,382,395,408,421,434,446,459,472,485,498,510,523,536,549,562,574,587,600]},
{"f":"side","y":389,"xs":[248,261,274,286,299,312,325,338,350,363,376,389,402,414,427,440,453,466,478,491,504,517,530,542,555,568,581,594]},
{"f":"side","y":396,"xs":[267,280,293,306,318,331,344,357,370,382,395,408,421,434,446,459,472,485,498,510,523,536,549,562,574]},
{"f":"side","y":402,"xs":[274,286,299,312,325,338,350,363,376,389,402,414,427,440,453,466,478,491,504,517,530,542,555,568]},
{"f":"side","y":408,"xs":[293,306,318,331,344,357,370,382,395,408,421,434,446,459,472,485,498,510,523,536,549]},
{"f":"side","y":415,"xs":[312,325,338,350,363,376,389,402,414,427,440,453,466,478,491,504,517,530]},
{"f":"side","y":421,"xs":[331,344,357,370,382,395,408,421,434,446,459,472,485]}
]},
"transform":[{"flatten":["xs"],"as":["x"]}],
"mark":{"type":"point","shape":"square","filled":true,"size":4,"opacity":0.9},
"encoding":{"color":{"field":"f","type":"nominal","legend":null,"scale":{"domain":["top","side"],"range":["#2e9e3c","#1c6a24"]}}}},
{"data":{"name":"blackDots","values":[{"x":448,"y":100},{"x":441,"y":119},{"x":441,"y":132},{"x":441,"y":145},{"x":441,"y":158},{"x":441,"y":171},{"x":441,"y":184},{"x":441,"y":197},{"x":441,"y":210}]},
"mark":{"type":"point","shape":"square","filled":true,"size":4,"color":"#fff"}},
{"data":{"name":"leaders","values":[
{"g":"a","i":1,"x":180,"y":401},{"g":"a","i":2,"x":197,"y":401},{"g":"a","i":3,"x":312,"y":420},
{"g":"b","i":1,"x":243,"y":90},{"g":"b","i":2,"x":258,"y":90},{"g":"b","i":3,"x":258,"y":121},
{"g":"c","i":1,"x":310,"y":70},{"g":"c","i":2,"x":310,"y":86},{"g":"c","i":3,"x":400,"y":92},
{"g":"d","i":1,"x":472,"y":70},{"g":"d","i":2,"x":472,"y":86},{"g":"d","i":3,"x":447,"y":94},
{"g":"e","i":1,"x":718,"y":105},{"g":"e","i":2,"x":718,"y":120},{"g":"e","i":3,"x":672,"y":160}
]},
"mark":{"type":"line","stroke":"#000","strokeWidth":1},
"encoding":{"detail":{"field":"g"},"order":{"field":"i"}}},
{"data":{"name":"names","values":[
{"x":720,"y":63,"t":"13 - 14 age group"},{"x":94,"y":393,"t":"15 - 16 age group"},{"x":156,"y":82,"t":"17 - 18 age group"},{"x":311,"y":31,"t":"19 - 20 age group"},{"x":471,"y":31,"t":"Below 12"}
]},
"mark":{"type":"text","font":"Liberation Sans","fontSize":21,"align":"center","baseline":"alphabetic","color":"#000"},
"encoding":{"text":{"field":"t"}}},
{"data":{"name":"shares","values":[
{"x":721,"y":93,"t":"32,1%"},{"x":95,"y":422,"t":"48,8%"},{"x":158,"y":111,"t":"14,5%"},{"x":312,"y":59,"t":"3,8%"},{"x":474,"y":59,"t":"0,8%"}
]},
"mark":{"type":"text","font":"Liberation Sans","fontSize":21,"fontWeight":"bold","align":"center","baseline":"alphabetic","color":"#000"},
"encoding":{"text":{"field":"t"}}}
]
}
